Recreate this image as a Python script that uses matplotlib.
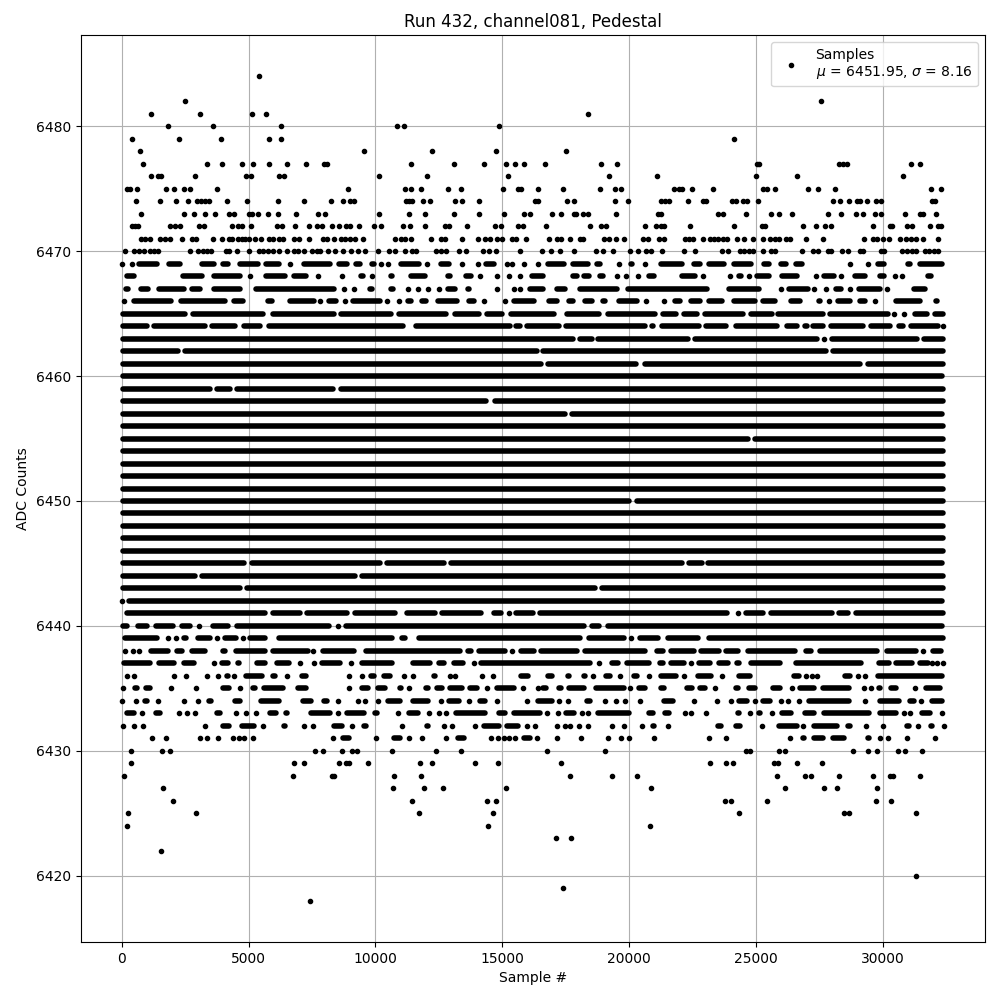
import matplotlib
matplotlib.use("Agg")
import matplotlib.pyplot as plt

# Each row is one ADC level. A plain number is one sample; a (first, last) pair
# is a stretch of samples so closely packed that the dots merge into a bar.
row_6484 = [5423]
row_6482 = [2508, 27563]
row_6481 = [1169, 3099, 5147, 5699, 18385]
row_6480 = [1838, 3611, 6289, 10859, 11134, 14877]
row_6479 = [420, 2271, 3926, 5817, 6289, 24136]
row_6478 = [735, 9559, 12237, 14758, 17518]
row_6477 = [853, 3374, 3965, 4753, 5186, 5817, 6526, 7274, 7970, 8088, 11410, 13104, 14286, 15152, 15506, 15861,
            16691, 18897, 19527, 25042, 25118, 28272, 28430, 28587, 31108, 31462]
row_6476 = [1169, 1444, 1562, 2902, 4911, 5108, 6210, 6407, 10149, 12040, 15231, 19212, 21103, 25003, 26618, 30793]
row_6475 = [223, 328, 617, 1759, 2075, 2468, 2705, 3768, 8928, 11174, 11384, 11804, 12867, 13380, 15034, 15638, 15756,
            16413, 17400, 18858, 19449, 19685, 21773, 21970, 22088, 22482, 23309, 25278, 25436, 25751, 27051, 27445,
            28114, 31896, 32290]
row_6474 = [578, 1523, 2153, 2626, 2981, 3138, 3296, 3453, 4162, 4950, 6171, 7195, 8259, 8731, 9007, 9165, 11213, 11331,
            11449, 11883, 12158, 13143, 13419, 14089, 16294, 16415, 17558, 17834, 19449, 19961, 21260, 21418, 21575,
            22324, 22915, 23046, 24057, 24215, 24491, 24648, 25081, 28036, 28311, 28666, 28981, 29086, 29375, 29730,
            29913, 31922, 32040]
row_6473 = [775, 2468, 2862, 3296, 3689, 4241, 4438, 5029, 5147, 5383, 5777, 6171, 6880, 7747, 8023, 10149, 11331, 11961,
            13104, 14089, 15073, 15861, 16097, 16967, 17321, 17834, 17912, 18188, 18385, 19488, 21142, 21260, 23506,
            23703, 24609, 25593, 25909, 26420, 27839, 28351, 28942, 29218, 29690, 29926, 30885, 31462, 31580, 32092]
row_6472 = [394, 525, 656, 1917, 2101, 2298, 3059, 3256, 4359, 4595, 4753, 5108, 6132, 6329, 6841, 7392, 7707, 7904,
            8298, 8574, 8850, 9007, 9362, 9953, 10228, 11095, 11371, 11961, 12749, 12907, 13616, 14719, 14955, 15625,
            15822, 16731, 18464, 18897, 19094, 20630, 21064, 21260, 21378, 22403, 24136, 25239, 25357, 26854, 27366,
            27720, 27957, 29611, 30268, 30360, 30951, 31148, 31857, 32171, 32290]
row_6471 = [775, 919, 1129, 1523, 1720, 1917, 2390, 2784, 2941, 3611, 3965, 4241, 4359, 4595, 4753, 4871, 5029, 5265,
            5501, 5817, 5948, 6210, 6368, 6801, 6998, 7392, 7944, 8101, 8377, 8653, 8810, 9007, 9204, 9519, 10780,
            11016, 11174, 11410, 12198, 12592, 12749, 13419, 14049, 14325, 14522, 14798, 14995, 15388, 15546, 15940,
            16849, 17164, 17321, 17676, 18070, 18188, 19015, 19212, 19488, 19803, 20551, 20748, 21182, 21378, 22206,
            22363, 22521, 22915, 23191, 23348, 23506, 23703, 23860, 24254, 24530, 24884, 25278, 25554, 25751, 25909,
            26184, 26342, 26972, 27642, 29257, 29611, 29769, 30005, 30242, 30675, 30911, 31108, 31305, 31580, 32171]
row_6470 = [144, 499, 696, 893, 1129, 1287, 1444, 2705, 3020, 3217, 3374, 3532, 4123, 4241, 4556, 5029, 5423, 5580, 5777,
            5974, 6210, 6526, 6801, 6959, 7195, 7510, 7707, 7825, 8141, 8416, 8731, 9047, 9323, 9598, 10110, 10543,
            10780, 11174, 11449, 11607, 12395, 12592, 12789, 13301, 13577, 14246, 14483, 14758, 15704, 16573, 16928,
            17282, 17834, 18700, 18976, 19370, 20039, 20354, 20670, 20867, 21300, 22166, 22600, 23663, 23900, 24372,
            24530, 24727, 24884, 25278, 25593, 25751, 26815, 27248, 27445, 27839, 27957, 28390, 28627, 29100, 29218,
            29926, 30045, 30754, 30951, 31148, 31305, 31660, 31817, 32014, 32171]
row_6469 = [0, 394, (591, 1484), (1773, 2429), (2560, 2757), (3059, 3742), (3900, 4307), (4556, 5501), (5580, 6329), 6631,
            (7077, 8338), (8469, 8994), (9125, 9519), (9756, 10045), 10228, 10504, (10898, 11817), 12040, (12473, 13025),
            13419, 14049, (14246, 14771), 15192, 15401, 15861, 16415, (16678, 17532), (17689, 18490), (18608, 18976),
            (19100, 19320), 19580, (19961, 20236), 20617, (21142, 22193), (22429, 22915), (23046, 23860), (24031, 24911),
            (25213, 25633), (25869, 26302), (26460, 26919), (28060, 28220), 28705, 29414, (29690, 30136), (30268, 30504),
            (30859, 31161), (31344, 32440)]
row_6468 = [(92, 591), (1011, 1247), (1405, 1615), (2298, 3282), (3519, 4792), 5055, (5580, 6565), (6696, 7392), 7747,
            (8009, 8232), 8666, (9323, 9611), 9848, (10504, 10767), (11292, 12080), (12762, 13038), (13458, 13892), 14115,
            14811, 15270, 15704, (16045, 16718), (17663, 18057), (18123, 18543), (18753, 19081), 19527, 19882, 20341,
            (20683, 21103), (21274, 21444), (21970, 22718), 22889, (23480, 23703), 23978, (24228, 24530), 24727,
            (24911, 25606), (25909, 26723), 27366, (27576, 28167), 28351, (28771, 29388), (29782, 30136), 30465, 30767,
            (31673, 32001)]
row_6467 = [(66, 368), (656, 1142), (1379, 2560), (2665, 3217), (3545, 4792), (5186, 8469), 8771, 9165, (9677, 9979),
            (10110, 10346), (10504, 10806), 11292, 11686, 12080, 12512, (12749, 13261), (13524, 13787), (14154, 14351),
            14798, (14995, 15205), 15467, 15704, (15979, 16704), (17033, 17597), (17965, 19632), (19856, 23178),
            (23348, 23545), (23834, 25239), (25580, 25711), 25987, (26197, 27156), 27288, 27747, (28036, 28469), 28705,
            (28928, 30005), 30176, (30399, 30596), (31121, 31778), (32171, 32408)]
row_6466 = [92, (394, 2061), (2232, 4175), (4333, 4884), (5029, 5252), (5672, 6040), (6526, 7681), 7812, (8049, 8574), 8797,
            (8994, 10281), 10464, 10937, (11161, 11528), (11725, 12119), (12342, 13327), (13564, 13984), 14286,
            (14509, 14732), 15113, (15362, 16350), (16744, 17269), (17505, 17886), (18162, 18648), (18845, 19173),
            (19501, 20420), 20670, 21378, (21707, 22100), (22324, 22915), (23046, 23768), (24005, 25055), (25173, 25869),
            (26263, 26854), (27379, 27642), 27878, (28101, 28797), (28981, 29414), 29690, (30399, 31581), (31975, 32237)]
row_6465 = [(-66, 2626), (2718, 5672), (5869, 8469), (8548, 10720), (10825, 12886), (13030, 14199), (14304, 15092),
            (15223, 17166), (17455, 18939), (19070, 21132), (21224, 21954), (22059, 22794), (22860, 24580), (24672, 25722),
            (25761, 27757), (27823, 30318), 30423, 30817, (31171, 31827), (31958, 32457)]
row_6464 = [(-66, 1116), (1182, 3388), (3453, 4569), (4714, 5580), (5685, 11180), (11481, 15394), (15446, 15814),
            (15880, 17350), (17416, 20738), (20777, 21066), (21171, 22873), (22926, 23923), (24107, 25945), (26116, 26733),
            (26838, 27101), (27140, 27731), (27849, 29333), (29438, 30383), (30515, 30909), (30987, 32287), 32379]
row_6463 = [(-66, 17876), (17941, 18637), (18677, 22413), (22466, 27521), 27665, (27888, 31434), (31500, 32484)]
row_6462 = [(-66, 2337), (2390, 16470), (16510, 27862), (27928, 32484)]
row_6461 = [(-66, 16641), (16694, 20370), (20502, 29200), (29300, 32484)]
row_6460 = [(-66, 32440)]
row_6459 = [(-66, 3585), (3650, 4372), (4438, 8443), (8535, 32484)]
row_6458 = [(-66, 14462), (14593, 32484)]
row_6457 = [(-66, 17587), (17650, 32440)]
row_6456 = [(-66, 32484)]
row_6455 = [(-66, 24777), (24830, 32484)]
row_6454 = [(-66, 32484)]
row_6453 = [(-66, 32484)]
row_6452 = [(-66, 32484)]
row_6451 = [(-66, 32484)]
row_6450 = [(-66, 20108), (20186, 32484)]
row_6449 = [(-66, 32457)]
row_6448 = [(-66, 32457)]
row_6447 = [(-66, 32484)]
row_6446 = [(-66, 32484)]
row_6445 = [(-66, 4924), (5016, 10281), (10360, 12794), (12860, 22177), (22243, 22965), (23005, 32440)]
row_6444 = [(-66, 3020), (3059, 9323), (9362, 32484)]
row_6443 = [(-66, 4792), (4832, 18768), (18808, 32484)]
row_6442 = [25, (171, 32440)]
row_6441 = [(92, 5777), (5843, 7130), (7182, 8994), (9099, 10891), (11153, 12466), (12505, 14265), (14567, 15066), 15249,
            (15420, 16313), (16366, 23975), 24304, (24475, 25394), (25460, 28112), (28177, 28715), (28833, 32457)]
row_6440 = [(-66, 328), (525, 1116), (1247, 2140), (2271, 2797), 3059, (3506, 4307), (4438, 8272), 8521, (8731, 18346),
            (18424, 18936), (19041, 32434)]
row_6439 = [(39, 1510), 1812, 2140, (2337, 2665), (2915, 3611), 3768, (3965, 4635), 4792, (4963, 5751), (6105, 10767),
            (10937, 11292), (11620, 18162), (18319, 19895), 20079, (20315, 21234), (21405, 22810), (23020, 32470)]
row_6438 = [131, 433, 683, (1050, 1943), (2061, 2494), (2665, 3414), (3873, 4202), (4398, 5751), (5843, 7445), 7550,
            (7812, 9283), (9519, 13432), (13537, 13879), (13984, 15231), 15401, (15625, 16350), (16415, 18057),
            (18162, 20748), (20972, 21444), (21536, 22652), (22718, 23637), (23703, 24398), (24556, 26657), (26854, 27274),
            (27405, 29874), (30032, 31423), 31580, (31844, 32395)]
row_6437 = [(0, 1247), (1352, 2166), (2337, 2954), 3650, (3847, 4294), (4464, 4740), (5226, 5777), (6027, 6709), 7025, 7589,
            (7786, 8705), 9033, (9362, 10753), (11384, 12250), (12408, 12802), (12986, 13564), 13892, (14049, 18582), 18818,
            (19212, 19659), (19803, 20880), (21103, 21444), (21536, 22285), 22416, (22626, 23283), (23440, 23991),
            (24123, 24451), (24688, 26040), (26460, 29257), (29414, 29651), (29743, 30334), (30399, 31253), (31358, 31870),
            31948, 32132, 32368]
row_6436 = [197, 499, 2075, 2547, (2823, 3059), 3374, 3808, (4031, 4294), 4438, (4792, 5646), (5843, 6171), 6500, (6998, 7392),
            (8009, 8232), 8968, 9480, (9716, 10045), (10241, 10675), 11121, 11489, (12211, 12474), 12933, 13130,
            (13721, 13918), 14194, 14640, (15231, 15467), (15625, 16110), (16678, 17072), (17466, 17729), (18123, 18385),
            18582, (18976, 19370), 19645, (20066, 20420), 20788, (21142, 21970), 22166, (22587, 23335), 23663, (24228, 24884),
            (26394, 26788), 26985, 27209, 27419, (27970, 28141), (28403, 28797), 29020, 29296, (29677, 32434)]
row_6435 = [66, (420, 696), (853, 1247), 1930, 2915, (3873, 4359), 4661, (5055, 5383), (5515, 6460), (6828, 7379), (7550, 7786),
            (8206, 8403), 8968, (9362, 9808), (9979, 10504), (10871, 11134), 11331, (11883, 12171), (12316, 12736),
            (12828, 13524), (13629, 14115), 14404, (14680, 15559), 15822, 16413, (16481, 16849), (17138, 17427), (17532, 18346),
            (18582, 19895), 20026, (20289, 20748), (21142, 21496), (22166, 22587), (22692, 23112), 23387, (24097, 24385),
            (24596, 25055), (25541, 26066), 26420, (26631, 27379), (27536, 28758), 29257, 29533, (29743, 29979),
            (30202, 30622), 31279, (31581, 32342)]
row_6434 = [0, 551, (827, 1090), 1444, 2468, 3020, (3322, 3650), (4372, 4792), (5383, 6302), (7051, 7589), (7878, 8206), 8534,
            9323, 9598, 10110, (10398, 11069), (11384, 12185), 12579, (12802, 13393), 13695, (14010, 14417), 14798, 15992,
            (16281, 17072), 17243, 17598, (18215, 18556), 19055, 19475, 19842, 20433, (21274, 21825), 22560, 23466, 24018,
            (24228, 24753), 24976, (25147, 25646), 25987, 26263, 26696, (26985, 28758), 29296, (29769, 30727), (30964, 31344),
            31515, (31804, 32434)]
row_6433 = [(92, 591), 788, (1247, 1615), 2271, 2560, 2889, (3637, 3978), 4517, 4911, 5305, (5751, 6210), (6368, 6631),
            (7353, 8311), 8521, (8771, 9651), (9874, 10176), 10898, (11226, 11778), 12119, 12487, 12789, (13065, 14417),
            (14771, 15231), (15362, 16586), 16770, 17203, (17400, 17926), 18149, 18385, (18647, 20092), (20683, 21037),
            (21313, 21667), 22206, 22442, 23046, (23703, 23939), (24162, 24425), 24766, (25016, 25252), 25633, (25909, 26486),
            (26828, 27405), (27576, 29545), (29769, 30635), 30833, 31056, (31423, 31975), 32342]
row_6432 = [39, 499, 853, 3296, (3873, 4333), (4635, 5318), 5580, (6276, 6539), 7195, 7550, (8272, 8797), 9086, (9454, 9729),
            11055, (11922, 12185), 12710, 12999, 13931, (14181, 14968), (15060, 15730), 15992, 16294, 17164, 17466, 17676,
            18031, 18386, 19304, 19803, 20486, (20841, 21103), 21536, (23388, 23716), (24100, 24464), 25239, (25803, 26723),
            26854, (27182, 28298), (28495, 28823), 29336, 30005, (30819, 31121), 31384, (31778, 32040), 32395]
row_6431 = [1208, 1759, 3099, 3374, 3808, 4399, 4621, 4832, 5186, 8338, (8600, 9060), 10032, (10635, 11095), 11331, 11843,
            12789, (13130, 13590), (13721, 13944), 14574, 14837, 15060, 15270, 15506, (15756, 16215), 16373, 17138,
            (17663, 17886), 18109, 19173, 19685, 20000, 20985, 23151, 23821, (24491, 24688), (25501, 25738), 26342,
            (26723, 26985), (27182, 27747), (27904, 28561), (29283, 29545), 29874, 30202, 30951, 32066]
row_6430 = [381, 1602, 1917, 7629, 7944, 8666, 9060, 9257, 10662, 12395, 13380, 16770, 19055, 24622, 24779, 25909, 26145,
            28823, 29414, 29782, 30596, 30885, 31541]
row_6429 = [381, 6801, 7195, 8574, 8823, 8968, 9716, 11764, 12237, 13931, 14837, 17321, 23191, 23821, 24097, 25712, 25882,
            26618, 27602]
row_6428 = [105, 6762, 8272, 8377, 10740, 11804, 17676, 19330, 20315, 25830, 26933, 27169, 28272, 29611, 30268, 30399, 31462]
row_6427 = [1641, 10701, 11922, 12670, 15152, 20867, 26145, 27681, 28193, 29769]
row_6426 = [2035, 11449, 14404, 14758, 23781, 24018, 25436, 29730, 30320]
row_6425 = [263, 2941, 11725, 14640, 24333, 28469, 28666, 31305]
row_6424 = [223, 14430, 20827]
row_6423 = [17124, 17715]
row_6422 = [1562]
row_6420 = [31305]
row_6419 = [17400]
row_6418 = [7441]

levels = [6484, 6482, 6481, 6480, 6479, 6478, 6477, 6476, 6475, 6474, 6473, 6472, 6471, 6470, 6469, 6468, 6467, 6466,
          6465, 6464, 6463, 6462, 6461, 6460, 6459, 6458, 6457, 6456, 6455, 6454, 6453, 6452, 6451, 6450, 6449, 6448,
          6447, 6446, 6445, 6444, 6443, 6442, 6441, 6440, 6439, 6438, 6437, 6436, 6435, 6434, 6433, 6432, 6431, 6430,
          6429, 6428, 6427, 6426, 6425, 6424, 6423, 6422, 6420, 6419, 6418]
rows = [row_6484, row_6482, row_6481, row_6480, row_6479, row_6478, row_6477, row_6476, row_6475, row_6474, row_6473,
        row_6472, row_6471, row_6470, row_6469, row_6468, row_6467, row_6466, row_6465, row_6464, row_6463, row_6462,
        row_6461, row_6460, row_6459, row_6458, row_6457, row_6456, row_6455, row_6454, row_6453, row_6452, row_6451,
        row_6450, row_6449, row_6448, row_6447, row_6446, row_6445, row_6444, row_6443, row_6442, row_6441, row_6440,
        row_6439, row_6438, row_6437, row_6436, row_6435, row_6434, row_6433, row_6432, row_6431, row_6430, row_6429,
        row_6428, row_6427, row_6426, row_6425, row_6424, row_6423, row_6422, row_6420, row_6419, row_6418]

title = "Run 432, channel081, Pedestal"
x_label = "Sample #"
y_label = "ADC Counts"
legend_label = "Samples\n$\\mu$ = 6451.95, $\\sigma$ = 8.16"

DOT_RADIUS = 109  # half a dot's width, in samples; bar ends were read at the dots' outer edge

point_x, point_y = [], []
bar_level, bar_start, bar_end = [], [], []
for level, row in zip(levels, rows):
    for item in row:
        if isinstance(item, tuple):
            first, last = item
            first, last = first + DOT_RADIUS, last - DOT_RADIUS
            if first >= last:
                first = last = (first + last) / 2
            bar_level.append(level)
            bar_start.append(first)
            bar_end.append(last)
        else:
            point_x.append(item)
            point_y.append(level)

fig, ax = plt.subplots(figsize=(10, 10), dpi=100)
ax.hlines(bar_level, bar_start, bar_end, colors="black", linewidth=4, capstyle="round", zorder=2)
ax.plot(point_x, point_y, "k.", label=legend_label)
ax.set_xlim(-1600, 34020)
ax.set_ylim(6414.7, 6487.3)
ax.set_title(title, pad=6)
ax.set_xlabel(x_label)
ax.set_ylabel(y_label)
ax.grid(True)
ax.legend(loc="upper right")
fig.subplots_adjust(left=0.081, right=0.985, top=0.965, bottom=0.058)
fig.savefig("out.png", dpi=100)
